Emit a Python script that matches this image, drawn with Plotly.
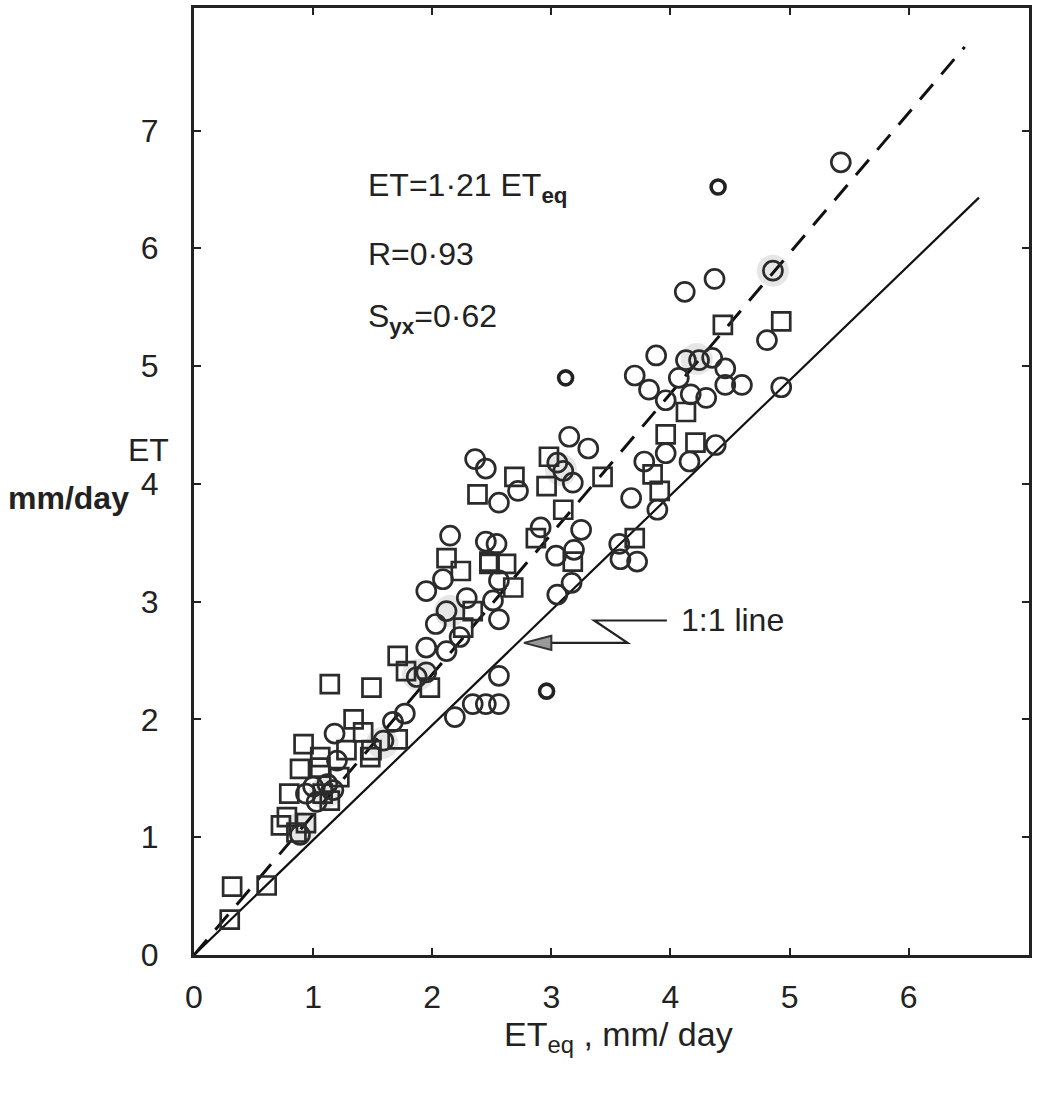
import plotly.graph_objects as go

# ---- data (ET_eq, ET in mm/day) ----
circle_x = [0.89, 0.94, 1.03, 1.12, 1.17, 1.00, 1.20, 1.18,
            1.59, 1.67, 1.77,
            1.95, 1.87, 1.95, 2.12, 1.95, 2.09, 2.03, 2.29, 2.12, 2.23, 2.56,
            2.19, 2.34, 2.45, 2.56, 2.56, 2.56, 2.51,
            2.36, 2.45, 2.72, 2.56, 3.15, 3.31, 3.10, 3.05, 3.18, 2.91, 2.15,
            2.45, 2.54, 3.25, 3.04, 3.19, 3.05, 3.17,
            3.67, 3.78, 3.89, 3.57, 3.58, 3.72, 3.96, 4.16, 4.38,
            3.82, 3.96, 4.17, 4.30, 4.46, 4.60, 4.07, 3.70, 4.46, 3.88, 4.13,
            4.24, 4.35,
            4.12, 4.37, 4.86, 4.81, 4.93, 5.43]
circle_y = [1.02, 1.37, 1.30, 1.45, 1.40, 1.43, 1.65, 1.88,
            1.82, 1.98, 2.05,
            2.61, 2.36, 2.40, 2.58, 3.09, 3.19, 2.81, 3.03, 2.92, 2.70, 2.37,
            2.02, 2.13, 2.13, 2.13, 3.18, 2.85, 3.01,
            4.21, 4.13, 3.94, 3.84, 4.40, 4.30, 4.11, 4.18, 4.01, 3.63, 3.56,
            3.51, 3.49, 3.61, 3.39, 3.44, 3.06, 3.16,
            3.88, 4.19, 3.78, 3.49, 3.36, 3.34, 4.26, 4.19, 4.33,
            4.80, 4.71, 4.76, 4.73, 4.84, 4.84, 4.90, 4.92, 4.98, 5.09, 5.05,
            5.05, 5.07,
            5.63, 5.74, 5.81, 5.22, 4.82, 6.73]

square_x = [0.32, 0.61, 0.30,
            0.73, 0.94, 0.86, 0.78, 0.80, 1.08, 1.14, 0.89, 1.06, 1.22, 0.92,
            1.34, 1.42, 1.49, 1.71, 1.14, 1.49, 1.28, 1.06, 1.48,
            1.71, 1.98, 1.78, 2.24, 2.34, 2.26, 2.68, 2.48,
            2.38, 2.69, 2.98, 2.96, 3.10, 3.43, 2.87, 2.12, 2.48, 2.62, 3.18,
            3.70, 3.85, 3.91, 3.96, 4.21, 4.13,
            4.44, 4.93]
square_y = [0.58, 0.59, 0.30,
            1.10, 1.12, 1.04, 1.17, 1.37, 1.37, 1.31, 1.58, 1.59, 1.51, 1.79,
            2.00, 1.89, 1.74, 1.83, 2.30, 2.27, 1.74, 1.68, 1.68,
            2.54, 2.27, 2.41, 3.26, 2.92, 2.78, 3.12, 3.32,
            3.91, 4.06, 4.23, 3.98, 3.78, 4.06, 3.54, 3.37, 3.34, 3.32, 3.34,
            3.54, 4.08, 3.94, 4.42, 4.35, 4.61,
            5.35, 5.38]

# small bold isolated "o" points
lone_x = [2.96, 3.12, 4.40]
lone_y = [2.24, 4.90, 6.52]

# grey smudges where many symbols overlap
shade_x = [0.90, 1.10, 1.58, 1.88, 2.15, 3.08, 4.22, 4.86]
shade_y = [1.08, 1.38, 1.80, 2.38, 2.92, 4.12, 5.06, 5.81]

# lines
one_to_one_x = [0, 6.59]
one_to_one_y = [0, 6.43]
regress_x = [0, 6.47]
regress_y = [0, 7.71]

x_ticks = [0, 1, 2, 3, 4, 5, 6]
y_ticks = [0, 1, 2, 3, 4, 5, 6, 7]

INK = "#2b2b2b"
FONT = "Liberation Sans, Arial, sans-serif"

fig = go.Figure()

fig.add_trace(go.Scatter(x=shade_x, y=shade_y, mode="markers",
                         marker=dict(symbol="circle", size=32,
                                     color="rgba(140,140,140,0.22)", line=dict(width=0)),
                         hoverinfo="skip", showlegend=False))

fig.add_trace(go.Scatter(x=one_to_one_x, y=one_to_one_y, mode="lines",
                         line=dict(color="#111", width=2.2), showlegend=False))
fig.add_trace(go.Scatter(x=regress_x, y=regress_y, mode="lines",
                         line=dict(color="#111", width=3, dash="20px,13px"),
                         showlegend=False))

fig.add_trace(go.Scatter(x=square_x, y=square_y, mode="markers",
                         marker=dict(symbol="square-open", size=18,
                                     color=INK, line=dict(width=2.7, color=INK)),
                         showlegend=False))
fig.add_trace(go.Scatter(x=circle_x, y=circle_y, mode="markers",
                         marker=dict(symbol="circle-open", size=19,
                                     color=INK, line=dict(width=2.7, color=INK)),
                         showlegend=False))
fig.add_trace(go.Scatter(x=lone_x, y=lone_y, mode="markers",
                         marker=dict(symbol="circle-open", size=14,
                                     color="#222", line=dict(width=3.6, color="#222")),
                         showlegend=False))

axis_common = dict(showgrid=False, zeroline=False, showline=True, linecolor="#222",
                   linewidth=3, mirror="ticks", ticks="inside", ticklen=7,
                   tickwidth=2, tickcolor="#222",
                   tickfont=dict(family=FONT, size=32, color="#222"))

fig.update_xaxes(range=[0, 7.01], tickvals=x_ticks, ticktext=[str(v) for v in x_ticks],
                 ticklabelstandoff=12, **axis_common)
fig.update_yaxes(range=[0, 8.04], tickvals=y_ticks, ticktext=[str(v) for v in y_ticks],
                 ticklabelstandoff=26, **axis_common)

ann_font = dict(family=FONT, size=32, color="#222")
fig.add_annotation(x=1.44, y=6.52, xref="x", yref="y", xanchor="left", yanchor="middle",
                   text="ET=1·21 ET<sub><b>eq</b></sub>", showarrow=False, font=ann_font)
fig.add_annotation(x=1.44, y=5.95, xref="x", yref="y", xanchor="left", yanchor="middle",
                   text="R=0·93", showarrow=False, font=ann_font)
fig.add_annotation(x=1.44, y=5.40, xref="x", yref="y", xanchor="left", yanchor="middle",
                   text="S<sub><b>yx</b></sub>=0·62", showarrow=False, font=ann_font)

# 1:1 line label with zig-zag arrow
fig.add_annotation(x=4.07, y=2.84, xref="x", yref="y", xanchor="left", yanchor="middle",
                   text="1:1 line", showarrow=False, font=dict(family=FONT, size=32, color="#222"))
fig.add_shape(type="path", xref="x", yref="y",
              path="M 3.97 2.84 L 3.36 2.84 L 3.64 2.65 L 2.95 2.65",
              line=dict(color="#222", width=2.2))
fig.add_shape(type="path", xref="x", yref="y",
              path="M 3.00 2.71 L 2.77 2.65 L 3.00 2.59 Z",
              line=dict(color="#333", width=2), fillcolor="#999")

# axis titles
fig.add_annotation(x=0.508, y=-0.086, xref="paper", yref="paper", xanchor="center",
                   yanchor="middle", text="ET<sub>eq</sub> , mm/ day", showarrow=False,
                   font=dict(family=FONT, size=34, color="#222"))
fig.add_annotation(x=-0.055, y=0.533, xref="paper", yref="paper", xanchor="center",
                   yanchor="middle", text="ET", showarrow=False,
                   font=dict(family=FONT, size=32, color="#222"))
fig.add_annotation(x=-0.150, y=0.483, xref="paper", yref="paper", xanchor="center",
                   yanchor="middle", text="<b>mm/day</b>", showarrow=False,
                   font=dict(family=FONT, size=32, color="#222"))

fig.update_layout(width=1037, height=1093, margin=dict(l=194, r=7, t=5, b=138),
                  paper_bgcolor="white", plot_bgcolor="white", showlegend=False)

fig.write_html("out.html")
